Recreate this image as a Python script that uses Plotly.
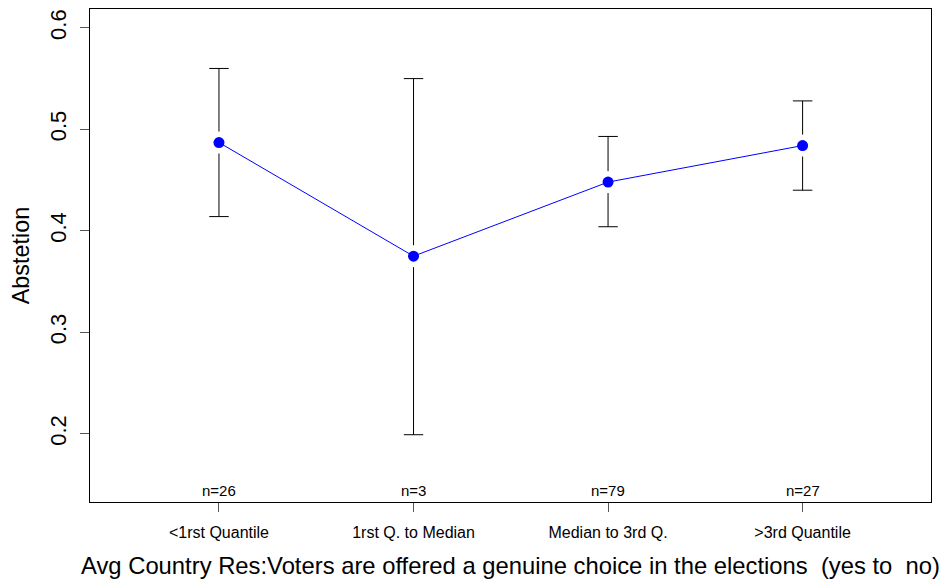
import plotly.graph_objects as go

categories = ["<1rst Quantile", "1rst Q. to Median", "Median to 3rd Q.", ">3rd Quantile"]
x_pos = [1, 2, 3, 4]
means = [0.487, 0.375, 0.448, 0.484]
lower = [0.414, 0.199, 0.404, 0.440]
upper = [0.560, 0.550, 0.493, 0.528]
n_labels = ["n=26", "n=3", "n=79", "n=27"]
y_ticks = [0.2, 0.3, 0.4, 0.5, 0.6]

FONT = "Liberation Sans, Arial, Helvetica, sans-serif"
gap = 0.0108   # white gap between point and error bar
cap = 0.05     # half width of caps (x units)

ex, ey = [], []
for x, m, lo, hi in zip(x_pos, means, lower, upper):
    ex += [x, x, None, x - cap, x + cap, None]
    ey += [m + gap, hi, None, hi, hi, None]
    ex += [x, x, None, x - cap, x + cap, None]
    ey += [m - gap, lo, None, lo, lo, None]

fig = go.Figure()
fig.add_trace(go.Scatter(x=ex, y=ey, mode="lines",
                         line=dict(color="black", width=1),
                         hoverinfo="skip", showlegend=False))
fig.add_trace(go.Scatter(x=x_pos, y=means, mode="lines+markers",
                         line=dict(color="#0000FF", width=1),
                         marker=dict(color="#0000FF", size=11),
                         showlegend=False))

for x, t in zip(x_pos, n_labels):
    fig.add_annotation(x=x, y=0, xref="x", yref="paper", yanchor="bottom",
                       text=t, showarrow=False, yshift=1,
                       font=dict(family=FONT, size=15, color="black"))

fig.update_layout(
    width=944, height=583,
    margin=dict(l=90, r=13, t=8, b=80),
    paper_bgcolor="white", plot_bgcolor="white",
    font=dict(family=FONT, color="black"),
)
fig.update_xaxes(
    range=[0.337, 4.66], tickvals=x_pos, ticktext=categories,
    showgrid=False, zeroline=False, showline=True, mirror=True,
    linecolor="black", linewidth=1,
    ticks="outside", ticklen=9, tickcolor="#555", tickwidth=1,
    tickfont=dict(family=FONT, size=16), ticklabelstandoff=7,
    title=dict(text="Avg Country Res:Voters are offered a genuine choice in the elections  (yes to  no)",
               font=dict(family=FONT, size=23.8), standoff=17),
)
fig.update_yaxes(
    range=[0.1327, 0.6186], tickvals=y_ticks, ticktext=["0.2", "0.3", "0.4", "0.5", "0.6"],
    showgrid=False, zeroline=False, showline=True, mirror=True,
    linecolor="black", linewidth=1,
    ticks="outside", ticklen=9, tickcolor="#555", tickwidth=1,
    tickangle=-90, tickfont=dict(family=FONT, size=22), ticklabelstandoff=5,
    title=dict(text="Abstetion", font=dict(family=FONT, size=23.4), standoff=10),
)

fig.write_html("out.html")
